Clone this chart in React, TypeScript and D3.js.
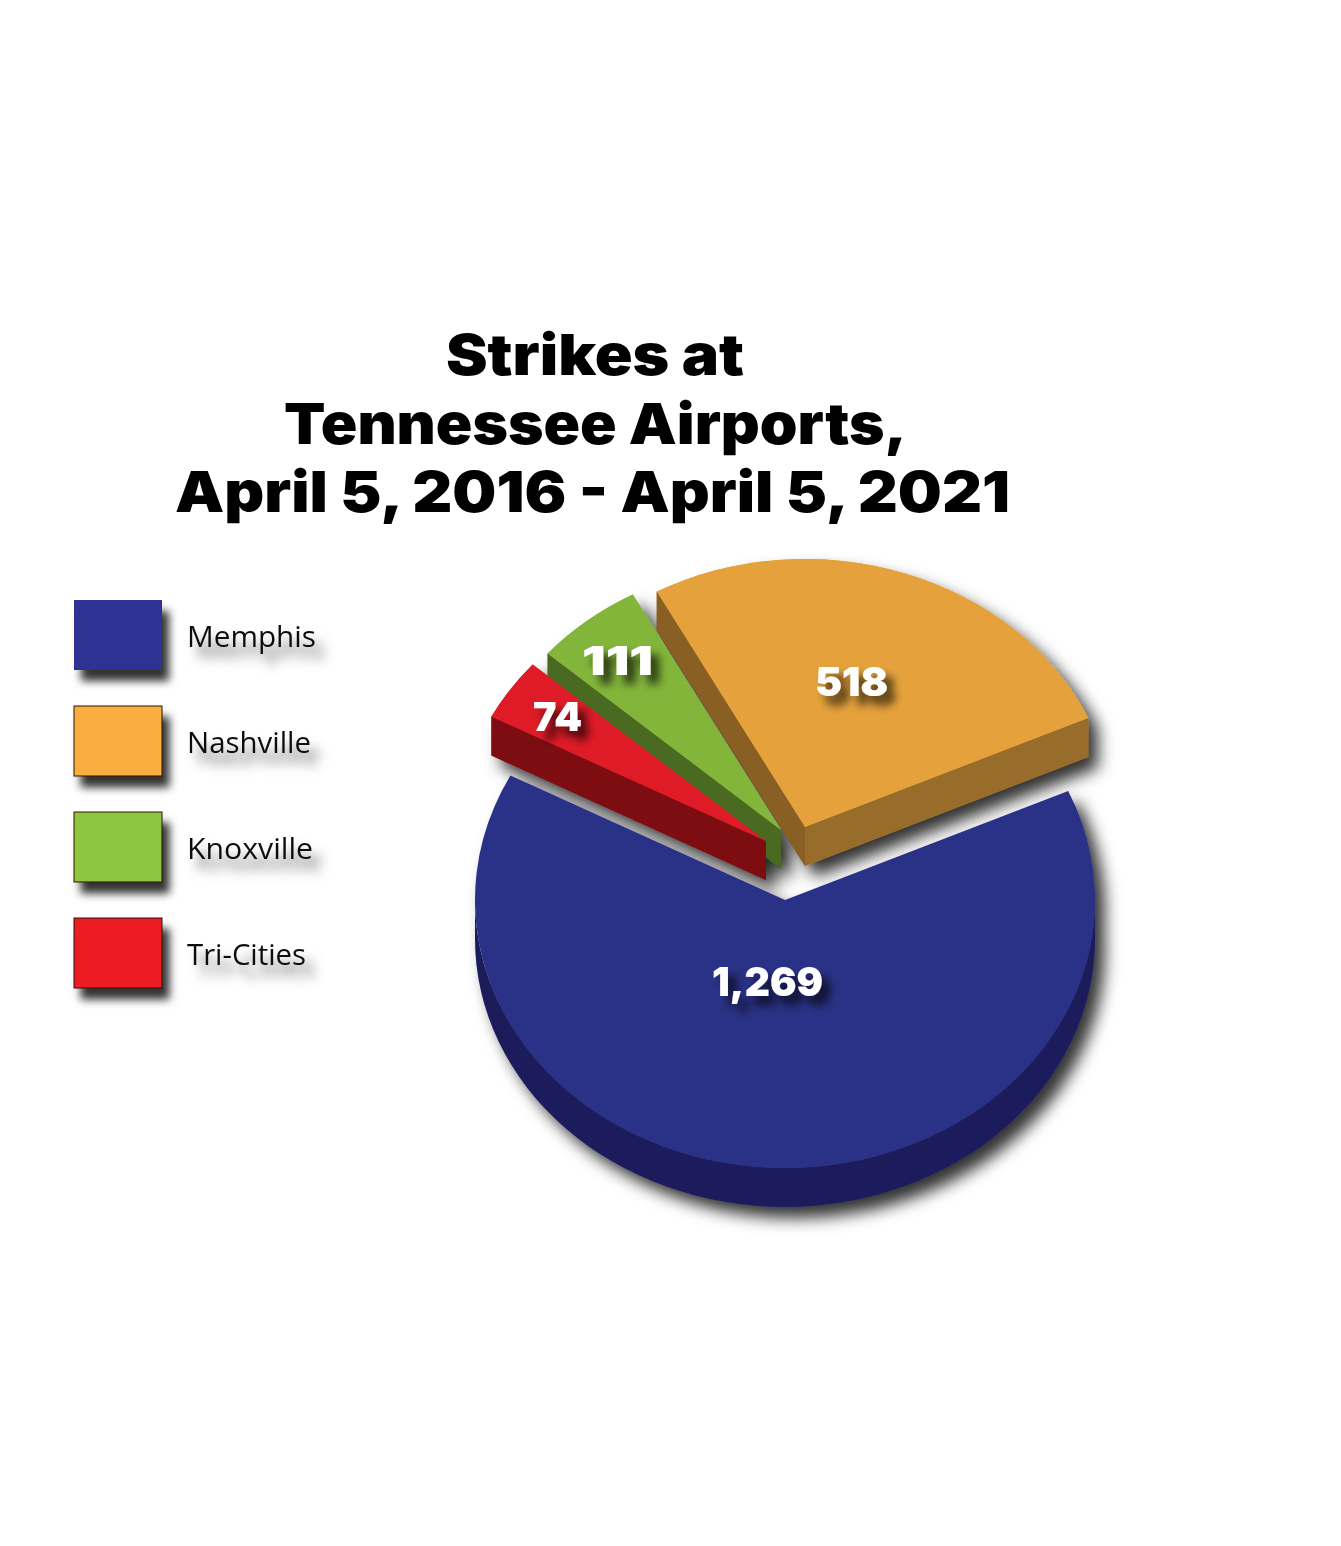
import React from "react";
import * as d3 from "d3";

const cities = ["Memphis", "Nashville", "Knoxville", "Tri-Cities"];
const strikes = [1269, 518, 111, 74];
const valueLabels = ["1,269", "518", "111", "74"];
const topColors = ["#2B3087", "#E5A23C", "#83B53A", "#DF1B27"];
const wallColors = ["#1C1E5C", "#986C2B", "#4A6A22", "#7E0D12"];
const cutColors = ["#1C1E5C", "#8A5F24", "#4A6A22", "#7E0D12"];
const legendColors = ["#2E3192", "#FBAE40", "#8DC63F", "#ED1C24"];
const titleLines = ["Strikes at", "Tennessee Airports,", "April 5, 2016 - April 5, 2021"];

// layout
const W = 1341, H = 1546;
const RX = 310, RY = 268, DEPTH = 39;
const centers: [number, number][] = [[785, 900], [805, 827], [781, 830], [766, 841]];
const labelPos: [number, number, number][] = [[712, 996, 111], [815, 696, 73], [582, 675, 71], [533, 731, 49]];
const titlePos: [number, number, number][] = [[446, 375, 298], [284, 444, 623], [175, 512, 835]];
const legendY = [600, 706, 812, 918];
const legendTextW = [129, 124, 126, 119];
const clockOrder = [0, 3, 2, 1];
const START = (66 * Math.PI) / 180;

const pie = d3.pie<number>().sort(null).startAngle(START).endAngle(START + 2 * Math.PI);
const arcs = pie(clockOrder.map((i) => strikes[i]));
const arcOf: Record<number, d3.PieArcDatum<number>> = {};
clockOrder.forEach((c, k) => (arcOf[c] = arcs[k]));
const arcGen = d3.arc();

const rim = (c: number, a: number): [number, number] => [
  centers[c][0] + RX * Math.sin(a),
  centers[c][1] - RY * Math.cos(a),
];
const poly = d3.line();

function Slice({ c, shadow }: { c: number; shadow?: boolean }) {
  const a = arcOf[c];
  const [cx, cy] = centers[c];
  const p0 = rim(c, a.startAngle);
  const p1 = rim(c, a.endAngle);
  const apex: [number, number] = [cx, cy];
  const apexD: [number, number] = [cx, cy + DEPTH];
  const down = (p: [number, number]): [number, number] => [p[0], p[1] + DEPTH];
  let walls: React.ReactNode = null;
  if (c === 0) {
    walls = (
      <path
        d={`M${cx - RX},${cy} A${RX},${RY} 0 0 0 ${cx + RX},${cy} L${cx + RX},${cy + DEPTH} A${RX},${RY} 0 0 1 ${cx - RX},${cy + DEPTH} Z`}
        fill={wallColors[0]}
      />
    );
  } else if (c === 1) {
    walls = (
      <>
        <path d={poly([p0, down(p0), apexD, apex])! + "Z"} fill={cutColors[1]} />
        <path d={poly([apex, p1, down(p1), apexD])! + "Z"} fill={wallColors[1]} />
      </>
    );
  } else {
    walls = <path d={poly([p0, down(p0), apexD, apex])! + "Z"} fill={wallColors[c]} />;
  }
  return (
    <g filter={shadow ? "url(#sliceShadow)" : undefined}>
      {walls}
      <path
        d={arcGen({ innerRadius: 0, outerRadius: RX, startAngle: a.startAngle, endAngle: a.endAngle })!}
        transform={`translate(${cx},${cy}) scale(1,${RY / RX})`}
        fill={topColors[c]}
      />
    </g>
  );
}

export default function App() {
  return (
    <svg width={W} height={H} viewBox={`0 0 ${W} ${H}`} style={{ position: "absolute", left: 0, top: 0, background: "#fff" }}>
      <defs>
        <filter id="sliceShadow" x="-20%" y="-20%" width="140%" height="140%">
          <feDropShadow dx="10" dy="11" stdDeviation="8" floodColor="#000" floodOpacity="0.8" />
        </filter>
        <filter id="boxShadow" x="-30%" y="-30%" width="170%" height="170%">
          <feDropShadow dx="7" dy="11" stdDeviation="4.5" floodColor="#000" floodOpacity="0.8" />
        </filter>
        <filter id="textShadow" x="-30%" y="-80%" width="170%" height="300%">
          <feDropShadow dx="9" dy="12" stdDeviation="6" floodColor="#000" floodOpacity="0.6" />
        </filter>
        <filter id="labelShadow" x="-40%" y="-80%" width="190%" height="300%">
          <feDropShadow dx="8" dy="9" stdDeviation="5" floodColor="#000" floodOpacity="0.75" />
        </filter>
      </defs>

      {titleLines.map((t, i) => (
        <text
          key={t}
          x={titlePos[i][0]}
          y={titlePos[i][1]}
          textLength={titlePos[i][2]}
          lengthAdjust="spacingAndGlyphs"
          fontFamily="Inter, 'Liberation Sans', sans-serif"
          fontWeight="900"
          fontSize={57}
          fill="#000"
        >
          {t}
        </text>
      ))}

      {cities.map((c, i) => (
        <g key={c}>
          <rect
            x={74}
            y={legendY[i]}
            width={88}
            height={70}
            fill={legendColors[i]}
            stroke={i === 0 ? "none" : "#2a0f00"}
            strokeWidth={1}
            filter="url(#boxShadow)"
          />
          <text
            x={187}
            y={legendY[i] + 47}
            textLength={legendTextW[i]}
            lengthAdjust="spacingAndGlyphs"
            fontFamily="'Open Sans', sans-serif"
            fontSize={30}
            fill="#111"
            filter="url(#textShadow)"
          >
            {c}
          </text>
        </g>
      ))}

      <Slice c={1} shadow />
      <Slice c={2} shadow />
      <Slice c={3} shadow />
      <Slice c={1} />
      <Slice c={2} />
      <Slice c={3} />
      <Slice c={0} shadow />

      {valueLabels.map((l, i) => (
        <text
          key={l}
          x={labelPos[i][0]}
          y={labelPos[i][1]}
          textLength={labelPos[i][2]}
          lengthAdjust="spacingAndGlyphs"
          fontFamily="Inter, 'Liberation Sans', sans-serif"
          fontWeight="900"
          fontSize={40}
          fill="#fff"
          filter="url(#labelShadow)"
        >
          {l}
        </text>
      ))}
    </svg>
  );
}
